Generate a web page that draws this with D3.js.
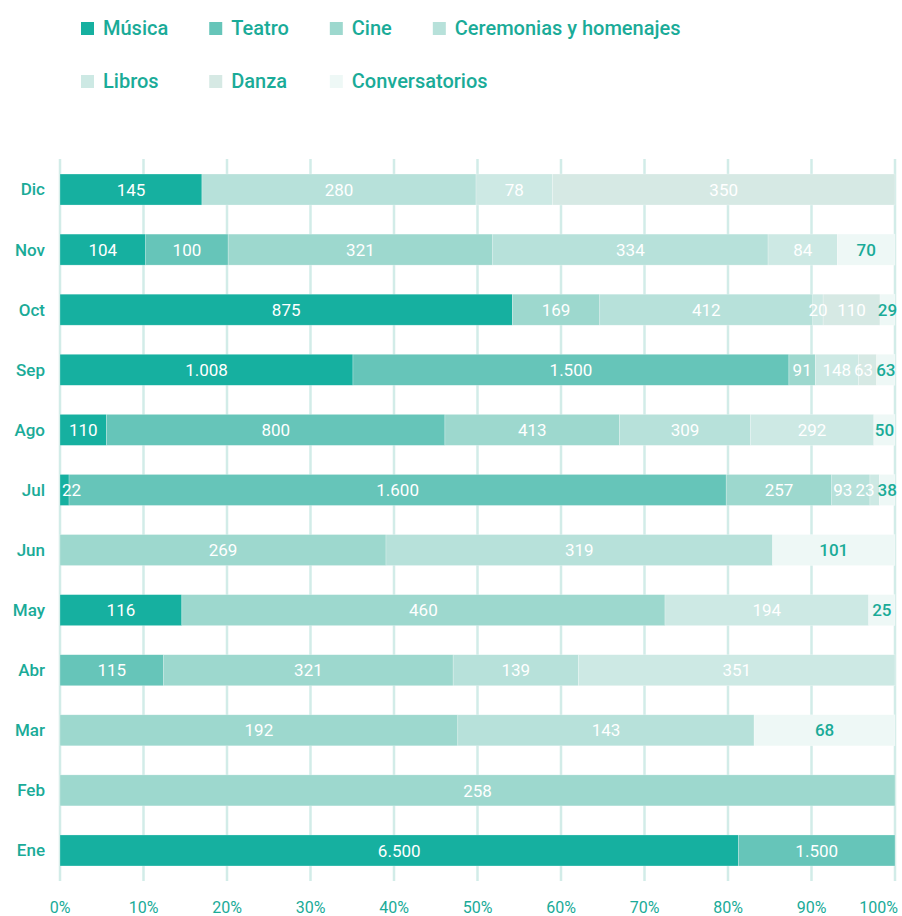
<!DOCTYPE html>
<html>
<head>
<meta charset="utf-8">
<script src="https://cdn.jsdelivr.net/npm/d3@7"></script>
<style>
  body { margin: 0; background: #fff; }
  text { font-family: Roboto, "Noto Sans", sans-serif; }
</style>
</head>
<body>
<div id="container"></div>
<script>
var months = ["Dic", "Nov", "Oct", "Sep", "Ago", "Jul", "Jun", "May", "Abr", "Mar", "Feb", "Ene"];
var seriesNames = ["Música", "Teatro", "Cine", "Ceremonias y homenajes", "Libros", "Danza", "Conversatorios"];
var seriesColors = ["#16b0a0", "#66c5b9", "#9dd8ce", "#b7e1da", "#cde9e4", "#d6e9e4", "#eef8f6"];

var musica         = [145, 104, 875, 1008, 110, 22, 0, 116, 0, 0, 0, 6500];
var teatro         = [0, 100, 0, 1500, 800, 1600, 0, 0, 115, 0, 0, 1500];
var cine           = [0, 321, 169, 91, 413, 257, 269, 460, 321, 192, 258, 0];
var ceremonias     = [280, 334, 412, 0, 309, 93, 319, 0, 139, 143, 0, 0];
var libros         = [78, 84, 20, 148, 292, 23, 0, 194, 351, 0, 0, 0];
var danza          = [350, 0, 110, 63, 0, 0, 0, 0, 0, 0, 0, 0];
var conversatorios = [0, 70, 29, 63, 50, 38, 101, 25, 0, 68, 0, 0];

var tickValues = [0, 0.1, 0.2, 0.3, 0.4, 0.5, 0.6, 0.7, 0.8, 0.9, 1];

var seriesValues = [musica, teatro, cine, ceremonias, libros, danza, conversatorios];
var teal = "#1aab98";

var locale = d3.formatLocale({ decimal: ",", thousands: ".", grouping: [3], currency: ["", ""] });
var fmt = locale.format(",d");

var svg = d3.select("#container")
    .append("svg")
    .attr("width", 902)
    .attr("height", 916);

var x = d3.scaleLinear().domain([0, 1]).range([60, 895]);
var y = d3.scaleBand().domain(months).range([159, 881]).paddingInner(0.484).paddingOuter(0.25);

// build table for stack (shares of the month total)
var table = months.map(function (m, i) {
    var row = { month: m };
    var total = 0;
    seriesNames.forEach(function (s, j) { total += seriesValues[j][i]; });
    seriesNames.forEach(function (s, j) { row[s] = seriesValues[j][i] / total; row[s + "_raw"] = seriesValues[j][i]; });
    return row;
});
var stacked = d3.stack().keys(seriesNames)(table);

// grid
svg.append("g")
    .selectAll("line")
    .data(tickValues)
    .join("line")
    .attr("x1", d => x(d))
    .attr("x2", d => x(d))
    .attr("y1", 159)
    .attr("y2", 881)
    .attr("stroke", "#d2ece8")
    .attr("stroke-width", 2.5);

// tick labels
svg.append("g")
    .selectAll("text")
    .data(tickValues)
    .join("text")
    .attr("x", (d, i) => i == tickValues.length - 1 ? x(d) + 3 : x(d))
    .attr("y", 913)
    .attr("text-anchor", (d, i) => i == tickValues.length - 1 ? "end" : "middle")
    .attr("fill", teal)
    .attr("font-size", 16)
    .text(d => Math.round(d * 100) + "%");

// month labels
svg.append("g")
    .selectAll("text")
    .data(months)
    .join("text")
    .attr("x", 45)
    .attr("y", d => y(d) + y.bandwidth() / 2)
    .attr("dy", "0.35em")
    .attr("text-anchor", "end")
    .attr("fill", teal)
    .attr("font-size", 17)
    .attr("font-weight", 500)
    .text(d => d);

// bars
var layers = svg.append("g")
    .selectAll("g")
    .data(stacked)
    .join("g")
    .attr("fill", (d, i) => seriesColors[i]);

layers.selectAll("rect")
    .data(d => d.filter(p => p[1] - p[0] > 0))
    .join("rect")
    .attr("x", d => x(d[0]))
    .attr("y", d => y(d.data.month))
    .attr("width", d => x(d[1]) - x(d[0]))
    .attr("height", y.bandwidth())
    .attr("stroke", "#ffffff")
    .attr("stroke-opacity", 0.4)
    .attr("stroke-width", 0.6);

// value labels, drawn after every bar so nothing covers them
var labels = svg.append("g");
var placed = {};
months.forEach(m => placed[m] = []);
stacked.forEach(function (layer, li) {
    var key = layer.key;
    var last = li == seriesNames.length - 1;
    labels.append("g")
        .selectAll("text")
        .data(layer.filter(p => p[1] - p[0] > 0))
        .join("text")
        .attr("y", d => y(d.data.month) + y.bandwidth() / 2)
        .attr("dy", "0.36em")
        .attr("text-anchor", "middle")
        .attr("font-size", 17)
        .attr("fill", last ? teal : "#ffffff")
        .attr("font-weight", last ? 500 : 400)
        .text(d => fmt(d.data[key + "_raw"]))
        .each(function (d) {
            var w = this.getComputedTextLength();
            var c = (x(d[0]) + x(d[1])) / 2;
            c = Math.max(c, x(0) + w / 2 + 2);
            c = Math.min(c, x(1) + 3 - w / 2);
            placed[d.data.month].push({ node: this, c: c, w: w });
        });
});

// push crowded labels to the left so they do not collide
months.forEach(function (m) {
    var row = placed[m];
    for (var i = row.length - 2; i >= 0; i--) {
        var next = row[i + 1];
        var maxRight = next.c - next.w / 2 - 3;
        if (row[i].c + row[i].w / 2 > maxRight) row[i].c = maxRight - row[i].w / 2;
    }
    row.forEach(r => d3.select(r.node).attr("x", r.c));
});

// legend
var legend = svg.append("g");
var row1 = seriesNames.slice(0, 4);
var row2 = seriesNames.slice(4);
var colX = [];
var cx = 81;
row1.forEach(function (name, i) {
    colX.push(cx);
    var t = legend.append("text")
        .attr("x", cx + 22)
        .attr("y", 28)
        .attr("dy", "0.35em")
        .attr("fill", teal)
        .attr("font-size", 20)
        .attr("font-weight", 500)
        .text(name);
    legend.append("rect")
        .attr("x", cx)
        .attr("y", 22)
        .attr("width", 13)
        .attr("height", 13)
        .attr("fill", seriesColors[i]);
    cx = cx + 22 + t.node().getComputedTextLength() + 41;
});
row2.forEach(function (name, i) {
    legend.append("rect")
        .attr("x", colX[i])
        .attr("y", 75)
        .attr("width", 13)
        .attr("height", 13)
        .attr("fill", seriesColors[i + 4]);
    legend.append("text")
        .attr("x", colX[i] + 22)
        .attr("y", 81)
        .attr("dy", "0.35em")
        .attr("fill", teal)
        .attr("font-size", 20)
        .attr("font-weight", 500)
        .text(name);
});
</script>
</body>
</html>
